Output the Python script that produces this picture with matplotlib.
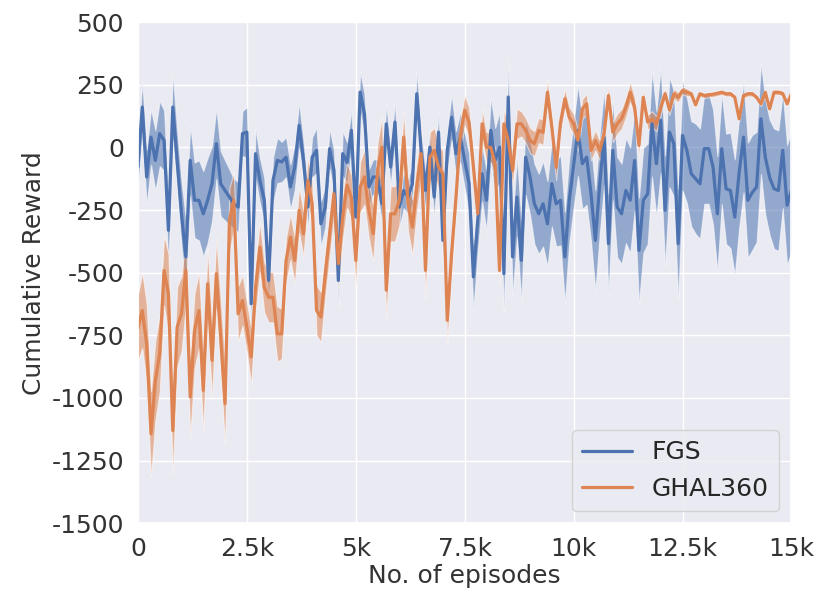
import numpy as np
import matplotlib
matplotlib.use("Agg")
import matplotlib.pyplot as plt
import seaborn as sns

# episodes, one point every 100 episodes
episodes = np.arange(0, 15001, 100)

fgs_mean = [
    -78, 161, -118, 41, -52, 55, 28, -331, 161, -52,
    -265, -437, -52, -211, -211, -265, -211, -145, 15, -145,
    -172, -198, -225, -238, 55, 61, -624, -25, -132, -211,
    -531, -132, -52, -58, -39, -158, -78, 88, -52, -238,
    -39, -12, -305, -238, -5, -92, -531, -25, -60, 68,
    -278, 221, 134, -158, -118, -118, -225, 94, -78, 101,
    -238, -172, -198, -145, 214, -12, -172, 1, -198, 61,
    -371, -12, 120, -25, 41, -52, -145, -517, -291, -105,
    -211, 68, -52, 1, -504, 201, -437, -198, -451, -39,
    -118, -225, -265, -225, -305, -145, -225, -211, -437, -211,
    -70, 68, -65, -39, -185, -371, -145, 41, -384, -12,
    -238, -265, -172, -211, -52, -411, -211, -185, 94, -65,
    108, -251, 61, 15, -384, 48, -12, -105, -125, -145,
    -5, -5, -78, -265, -5, -165, -172, -278, -100, 41,
    -211, -180, -158, 114, -39, -120, -165, -172, -12, -231,
    -172,
]

# half width of the shaded band
fgs_spread = [
    90, 100, 110, 110, 120, 130, 120, 140, 130, 120,
    130, 150, 140, 150, 160, 170, 170, 150, 140, 130,
    120, 110, 100, 100, 90, 100, 110, 100, 90, 90,
    100, 90, 90, 80, 80, 90, 90, 90, 80, 80,
    80, 90, 90, 80, 80, 80, 100, 90, 80, 80,
    90, 80, 80, 70, 70, 70, 70, 80, 70, 80,
    80, 70, 70, 80, 90, 80, 80, 70, 80, 80,
    80, 80, 90, 90, 100, 110, 120, 130, 120, 110,
    120, 130, 130, 140, 150, 140, 150, 160, 160, 150,
    150, 160, 160, 170, 170, 170, 170, 180, 180, 170,
    170, 180, 180, 190, 190, 200, 200, 190, 200, 200,
    200, 200, 210, 210, 200, 210, 210, 200, 210, 210,
    210, 220, 220, 210, 220, 220, 210, 210, 220, 220,
    220, 220, 230, 230, 220, 220, 230, 230, 220, 220,
    230, 230, 220, 220, 230, 230, 240, 240, 230, 240,
    240,
]

ghal_mean = [
    -720, -651, -783, -1143, -930, -823, -491, -584, -1130, -717,
    -664, -491, -996, -731, -651, -970, -544, -850, -504, -757,
    -1023, -291, -211, -664, -611, -717, -836, -558, -398, -558,
    -598, -598, -744, -744, -451, -358, -451, -251, -345, -132,
    -225, -651, -677, -504, -345, -185, -464, -278, -150, -200,
    -451, -158, -118, -251, -344, -92, 1, -570, -265, -265,
    -211, 41, -225, -318, -158, -25, -491, -39, -12, -78,
    -105, -690, -420, -200, 50, 148, 100, -78, -265, 94,
    1, 0, -65, -491, 94, 28, -92, 94, 94, 68,
    28, 15, 68, 60, 220, 81, -80, 100, 194, 121,
    94, 28, 154, 174, -12, 28, -12, 55, 207, 61,
    94, 114, 160, 220, 161, 8, 200, 101, 114, 94,
    161, 214, 150, 214, 200, 227, 220, 214, 170, 214,
    207, 210, 212, 216, 220, 214, 214, 200, 114, 207,
    214, 214, 200, 174, 220, 154, 220, 220, 215, 174,
    214,
]

ghal_spread = [
    130, 150, 160, 170, 160, 150, 140, 160, 170, 160,
    150, 140, 160, 150, 150, 160, 140, 150, 140, 150,
    160, 130, 110, 110, 100, 100, 110, 100, 100, 100,
    100, 100, 110, 100, 90, 90, 90, 90, 90, 90,
    90, 100, 100, 90, 90, 90, 100, 90, 90, 90,
    100, 100, 110, 110, 110, 110, 120, 110, 110, 110,
    100, 100, 110, 110, 100, 100, 110, 100, 90, 90,
    90, 90, 80, 70, 60, 60, 60, 60, 60, 60,
    60, 60, 60, 60, 60, 60, 60, 60, 50, 50,
    50, 50, 50, 50, 50, 50, 50, 40, 40, 40,
    40, 40, 40, 40, 40, 40, 40, 40, 40, 40,
    40, 40, 40, 40, 40, 40, 30, 30, 30, 30,
    30, 20, 20, 20, 20, 15, 15, 10, 10, 10,
    10, 10, 10, 10, 10, 10, 10, 10, 10, 10,
    10, 10, 10, 10, 10, 10, 10, 10, 10, 10,
    10,
]

x_ticks = [0, 2500, 5000, 7500, 10000, 12500, 15000]
x_tick_labels = ["0", "2.5k", "5k", "7.5k", "10k", "12.5k", "15k"]
y_ticks = [500, 250, 0, -250, -500, -750, -1000, -1250, -1500]

sns.set_theme(style="darkgrid")
plt.rcParams["font.family"] = ["DejaVu Sans"]
plt.rcParams["axes.unicode_minus"] = False

fig = plt.figure(figsize=(8.21, 5.98), dpi=100)
ax = fig.add_axes([0.168, 0.125, 0.796, 0.838])

series = [
    ("FGS", fgs_mean, fgs_spread, "#4C72B0"),
    ("GHAL360", ghal_mean, ghal_spread, "#DD8452"),
]

for name, mean, spread, color in series:
    mean = np.array(mean, dtype=float)
    spread = np.array(spread, dtype=float)
    ax.fill_between(episodes, mean - spread, mean + spread, color=color,
                    alpha=0.55, edgecolor="white", linewidth=0.8)
    ax.plot(episodes, mean, color=color, linewidth=2.3, label=name)

ax.set_xlim(0, 15000)
ax.set_ylim(-1500, 500)
ax.set_xticks(x_ticks)
ax.set_xticklabels(x_tick_labels)
ax.set_yticks(y_ticks)
ax.tick_params(axis="both", labelsize=18, colors="#333333", pad=4)

ax.set_xlabel("No. of episodes", fontsize=18, color="#333333", labelpad=2)
ax.set_ylabel("Cumulative Reward", fontsize=18, color="#333333")

ax.legend(loc="lower right", fontsize=18, frameon=True)

fig.savefig("out.png", dpi=100)
